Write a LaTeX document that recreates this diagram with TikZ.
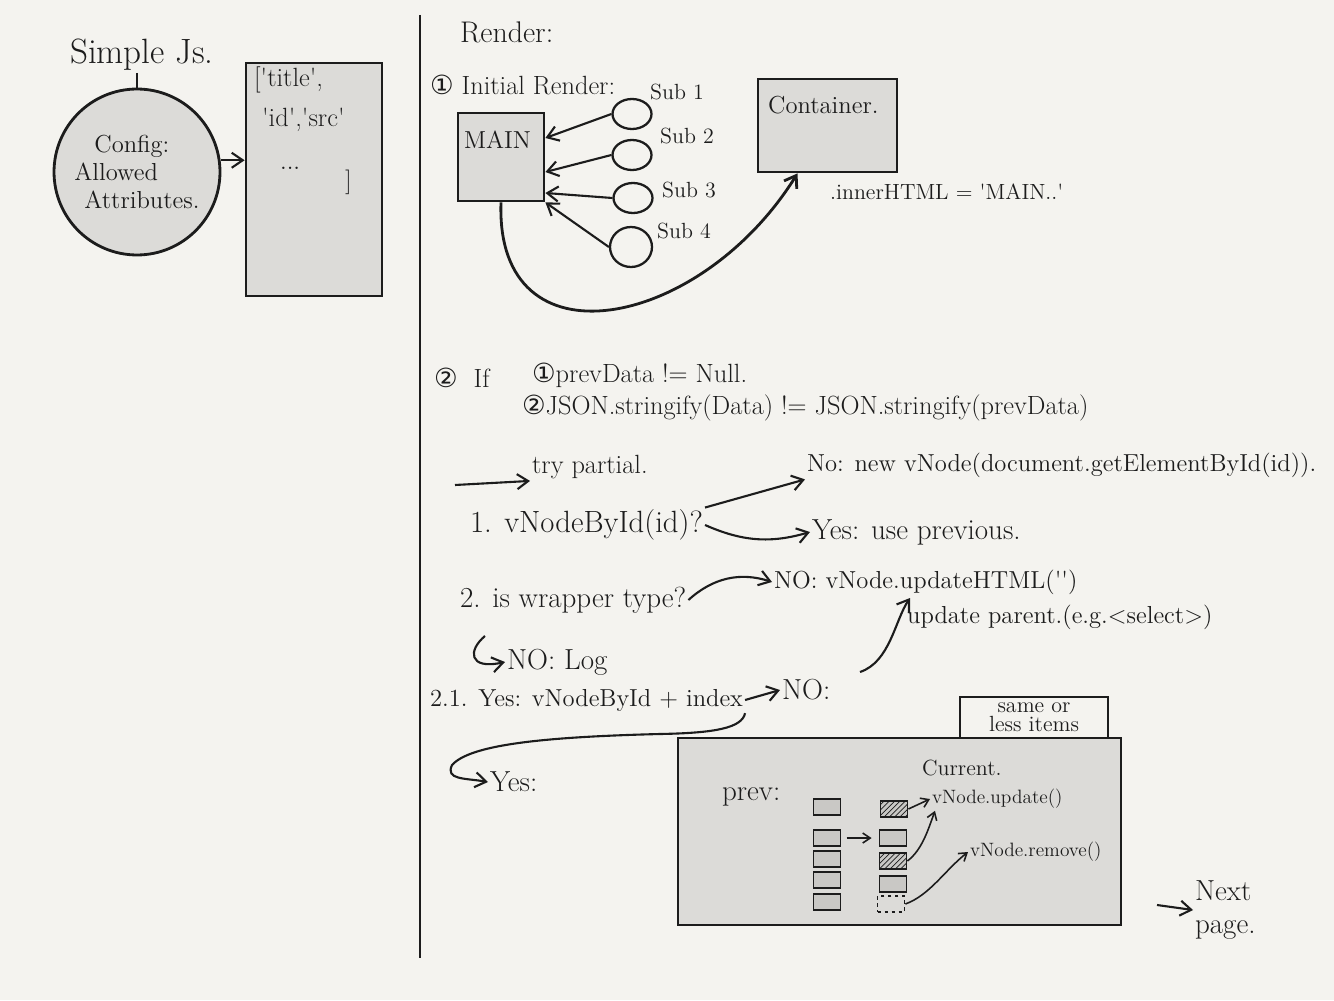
\documentclass[tikz,border=0pt]{standalone}
\usepackage{fontspec}
\newfontfamily\symfont{DejaVu Sans}
\usepackage{tikz}
\usetikzlibrary{arrows.meta,positioning,shapes.geometric,patterns}
\definecolor{paper}{HTML}{F4F3EF}
\definecolor{boxgray}{HTML}{DCDBD8}
\definecolor{itemgray}{HTML}{C9C8C5}
\definecolor{ink}{HTML}{1C1C1C}
\newcommand{\squote}{\textquotesingle}

\begin{document}
\begin{tikzpicture}[x=0.02cm, y=-0.02cm, >={Straight Barb[length=2.2mm,width=3mm]},
  font=\fontsize{14}{16}\selectfont, color=ink,
  box/.style={draw=ink, line width=1.6pt, fill=boxgray},
  txt/.style={anchor=west, inner sep=1pt},
  small/.style={font=\fontsize{11}{13}\selectfont},
  mid/.style={font=\fontsize{12.5}{14}\selectfont},
  big/.style={font=\fontsize{16.5}{19}\selectfont},
  flow/.style={->, line width=1.2pt},
  tiny/.style={->, line width=0.9pt, >={Straight Barb[length=1.5mm,width=2mm]}},
  sub/.style={ellipse, draw=ink, line width=1.3pt, minimum width=0.78cm, minimum height=0.6cm},
  item/.style={draw=ink, line width=1pt, fill=itemgray, minimum width=0.54cm, minimum height=0.32cm, inner sep=0pt},
  hatch/.style={item, preaction={fill=itemgray}, pattern=north east lines, pattern color=ink},
  ghost/.style={item, fill=none, dash pattern=on 2pt off 2pt}]
  \useasboundingbox (0,0) rectangle (1334,1000);
  \fill[paper] (0,0) rectangle (1334,1000);
  \draw[line width=1.6pt] (420,15) -- (420,958);

  % simple js
  \node[txt, font=\fontsize{20}{22}\selectfont] (simple) at (68,55) {Simple Js.};
  \node[circle, box, minimum size=3.32cm, align=left] (config) at (137,172)
    {\hspace*{0.4cm}Config:\\Allowed\\\hspace*{0.2cm}Attributes.};
  \draw[line width=1.2pt] (simple.south -| config.north) -- (config.north);
  \node[box, minimum width=2.72cm, minimum height=4.66cm] (attrs) at (314,179.5) {};
  \node[txt, font=\fontsize{15}{17}\selectfont] (a1) at (252,80) {[\squote title\squote,};
  \node[txt, font=\fontsize{15}{17}\selectfont] (a2) at (260,120) {\squote id\squote,\squote src\squote};
  \node[txt] (a3) at (278,168) {...};
  \node[txt] (a4) at (343,182) {]};
  \draw[flow] (config.8) -- (config.8 -| attrs.west);

  % render
  \node[txt, font=\fontsize{17}{19}\selectfont] (render) at (458,32) {Render:};
  \node[txt, font=\fontsize{15}{17}\selectfont] (initial) at (428,85) {{\symfont ①} Initial Render:};
  \node[box, minimum width=1.72cm, minimum height=1.76cm] (main) at (501,157) {};
  \node[txt] (maintext) at (462,140) {MAIN};
  \node[sub] (sub1) at (632,114) {};
  \node[sub] (sub2) at (632,155) {};
  \node[sub] (sub3) at (633,198) {};
  \node[sub, minimum width=0.84cm, minimum height=0.8cm] (sub4) at (631,247) {};
  \node[txt, mid] (lsub1) at (648,92) {Sub 1};
  \node[txt, mid] (lsub2) at (658,136) {Sub 2};
  \node[txt, mid] (lsub3) at (660,190) {Sub 3};
  \node[txt, mid] (lsub4) at (655,231) {Sub 4};
  \draw[flow] (sub1.west) -- ([yshift=0.38cm]main.east);
  \draw[flow] (sub2.west) -- ([yshift=-0.3cm]main.east);
  \draw[flow] (sub3.west) -- ([yshift=-0.72cm]main.east);
  \draw[flow] (sub4.west) -- (main.south east);
  \node[box, minimum width=2.78cm, minimum height=1.86cm] (container) at (827.5,125.5) {};
  \node[txt] (conttext) at (766,105) {Container.};
  \node[txt, mid] (inner) at (828,192) {.innerHTML = \squote MAIN..\squote};
  \draw[flow, line width=1.6pt] (main.south) .. controls (495,370) and (700,330) .. ([xshift=-0.6cm]container.south);

  % partial render
  \node[txt, font=\fontsize{15}{17}\selectfont] (two) at (432,378) {{\symfont ②}\ \ If};
  \node[txt, font=\fontsize{15}{17}\selectfont] (cond1) at (530,375) {{\symfont ①}prevData != Null.};
  \node[txt, font=\fontsize{15}{17}\selectfont] (cond2) at (520,408) {{\symfont ②}JSON.stringify(Data) != JSON.stringify(prevData)};
  \coordinate (tryfrom) at (455,485);
  \node[txt, font=\fontsize{15}{17}\selectfont] (try) at (530,467) {try partial.};
  \draw[flow] (tryfrom) -- (try.south west);
  \node[txt, font=\fontsize{17.5}{20}\selectfont] (q1) at (468,525) {1. vNodeById(id)?};
  \node[txt] (no1) at (805,465) {No: new vNode(document.getElementById(id)).};
  \node[txt, big] (yes1) at (810,532) {Yes: use previous.};
  \draw[flow] (q1.north east) -- (no1.south west);
  \draw[flow] (q1.east) to[bend right=20] (yes1.west);
  \node[txt, big] (q2) at (458,600) {2. is wrapper type?};
  \node[txt] (no2) at (772,582) {NO: vNode.updateHTML(\squote\squote)};
  \draw[flow] (q2.east) to[bend left=30] (no2.west);
  \coordinate (hook1) at (485,636);
  \node[txt, big] (log) at (505,662) {NO: Log};
  \draw[flow] (hook1) .. controls (468,650) and (468,670) .. (log.west);
  \node[txt, font=\fontsize{14}{16}\selectfont] (parent) at (905,617) {update parent.(e.g.<select>)};
  \node[txt] (q21) at (428,700) {2.1. Yes: vNodeById + index};
  \node[txt, big] (no21) at (780,690) {NO:};
  \draw[flow] (q21.east) -- (no21.west);
  \coordinate (uptail) at (860,672);
  \coordinate (updtip) at (910,598);
  \draw[flow] (uptail) .. controls (890,662) and (895,620) .. (updtip);
  \node[txt, big] (yes21) at (488,782) {Yes:};
  \draw[flow] (q21.south east) .. controls (742,728) and (715,733) .. (660,734)
    .. controls (540,737) and (470,745) .. (452,765)
    .. controls (445,780) and (465,778) .. (yes21.west);

  % same or less items
  \node[align=center, font=\fontsize{12.5}{11}\selectfont, inner sep=0pt, minimum width=2.96cm, minimum height=0.8cm] (same) at (1034,717) {same or\\less items};
  \draw[line width=1.2pt] (same.south west) |- (same.north east) -- (same.south east);
  \node[box, minimum width=8.86cm, minimum height=3.74cm] (big) at (899.5,831.5) {};
  \node[txt, big] (prev) at (720,797) {prev:};
  \node[txt, mid] (curr) at (920,768) {Current.};
  \foreach \y [count=\i] in {807,838,859,880,902}
    \node[item] (p\i) at (827,\y) {};
  \node[hatch] (c1) at (894,809) {};
  \node[item] (c2) at (893,838) {};
  \node[hatch] (c3) at (893,861) {};
  \node[item] (c4) at (893,884) {};
  \node[ghost] (c5) at (891,904) {};
  \node[txt, small] (upd) at (930,799) {vNode.update()};
  \node[txt, small] (rem) at (968,852) {vNode.remove()};
  \draw[tiny, shorten <=3pt, shorten >=4pt] (p2.east) -- (c2.west);
  \draw[tiny] (c1.east) -- (upd.west);
  \draw[tiny] (c3.east) .. controls (922,850) and (928,830) .. ([xshift=0.1cm]upd.south west);
  \draw[tiny] (c5.east) .. controls (930,895) and (945,870) .. (rem.west);

  % next page
  \coordinate (nextfrom) at (1157,905);
  \node[txt, align=left, big] (next) at (1193,910) {Next\\page.};
  \draw[flow] (nextfrom) -- (next.west);
\end{tikzpicture}
\end{document}
